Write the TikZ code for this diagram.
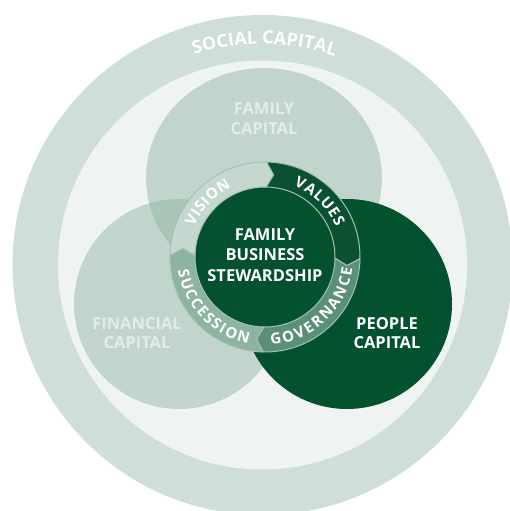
\documentclass[tikz,border=0pt]{standalone}
\usepackage{fontspec}
\setmainfont{Open Sans}
\usetikzlibrary{decorations.text}
\definecolor{outerring}{HTML}{CFDED8}
\definecolor{innerlight}{HTML}{EFF4F2}
\definecolor{capfill}{HTML}{C1D5CC}
\definecolor{overlapfill}{HTML}{A9C5B8}
\definecolor{darkgreen}{HTML}{03512F}
\definecolor{visionfill}{HTML}{C5D8CF}
\definecolor{valuesfill}{HTML}{0B5131}
\definecolor{govfill}{HTML}{5B9078}
\definecolor{succfill}{HTML}{8DB3A2}
\definecolor{ringline}{HTML}{A3C1B4}
\definecolor{softtext}{HTML}{E4ECE8}
\newcommand\capfont{\bfseries\fontsize{16.5}{19.5}\selectfont}
\newcommand\stewfont{\bfseries\fontsize{16.5}{20.5}\selectfont}
\newcommand\ringfont{\bfseries\fontsize{15}{15}\selectfont}
\newcommand\socialfont{\bfseries\fontsize{18}{18}\selectfont}
\begin{document}
\begin{tikzpicture}[x=1pt,y=1pt,
  captext/.style={align=center,inner sep=0pt,font=\capfont},
  seg/.style={draw=ringline,line width=1pt,line join=round},
  ringtext/.style={decorate,decoration={text along path,text align=fit to path,text color=white,text={|\ringfont|#1}}},
  socialtext/.style={decorate,decoration={text along path,text align=fit to path,text color=white,text={|\socialfont|#1}}},
]
\useasboundingbox (0,0) rectangle (510,511);
\coordinate (O) at (262.5,246);
\coordinate (C) at (265,254);
% outer social capital ring
\begin{scope}
  \clip (0,0) rectangle (510,511);
  \fill[outerring] (O) circle (250);
\end{scope}
\fill[innerlight] (O) circle (204.5);
% three capital circles
\fill[capfill] (264,333) ellipse [x radius=118, y radius=110];
\fill[capfill] (179,207) circle (105);
\begin{scope}
  \clip (264,333) ellipse [x radius=118, y radius=110];
  \fill[overlapfill] (179,207) circle (105);
\end{scope}
\fill[darkgreen] (347,207) circle (105);
% central disk and ring
\fill[darkgreen] (C) circle (70);
\begin{scope}[shift={(C)}]
  \path[seg,fill=visionfill] (179:95) arc[start angle=179,end angle=89,radius=95] -- (84:82.5) -- (89:70) arc[start angle=89,end angle=179,radius=70] -- (174:82.5) -- cycle;
  \path[seg,fill=valuesfill] (89:95) arc[start angle=89,end angle=-1,radius=95] -- (-6:82.5) -- (-1:70) arc[start angle=-1,end angle=89,radius=70] -- (84:82.5) -- cycle;
  \path[seg,fill=govfill] (-1:95) arc[start angle=-1,end angle=-91,radius=95] -- (-96:82.5) -- (-91:70) arc[start angle=-91,end angle=-1,radius=70] -- (-6:82.5) -- cycle;
  \path[seg,fill=succfill] (-91:95) arc[start angle=-91,end angle=-181,radius=95] -- (-186:82.5) -- (-181:70) arc[start angle=-181,end angle=-91,radius=70] -- (-96:82.5) -- cycle;
  \path[ringtext=VISION] (157:77) arc[start angle=157,end angle=116,radius=77];
  \path[ringtext=VALUES] (68:77) arc[start angle=68,end angle=23,radius=77];
  \path[ringtext=GOVERNANCE] (-86:88) arc[start angle=-86,end angle=-7,radius=88];
  \path[ringtext=SUCCESSION] (189:88) arc[start angle=189,end angle=259,radius=88];
\end{scope}
\begin{scope}[shift={(O)}]
  \path[socialtext={SOCIAL CAPITAL}] (108:221) arc[start angle=108,end angle=71,radius=221];
\end{scope}
% labels
\node[captext,text=softtext] (famcap) at (264,392.5) {FAMILY\\CAPITAL};
\node[captext,text=softtext] (fincap) at (137,178) {FINANCIAL\\CAPITAL};
\node[captext,text=white] (peocap) at (387,178) {PEOPLE\\CAPITAL};
\node[captext,text=white,font=\stewfont] (stew) at (265,256) {FAMILY\\BUSINESS\\STEWARDSHIP};
\end{tikzpicture}
\end{document}
